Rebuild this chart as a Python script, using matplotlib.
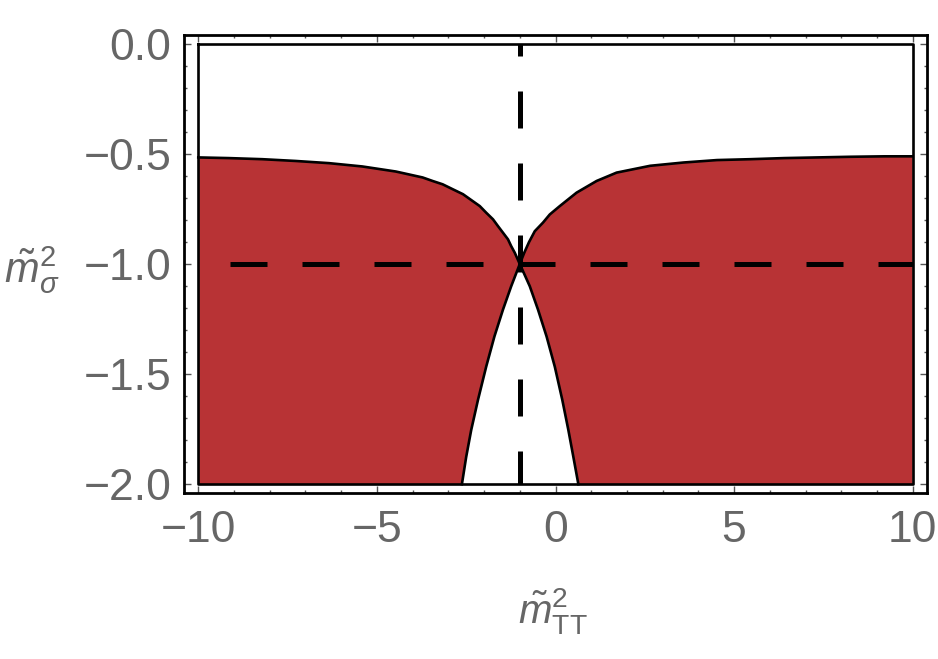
import matplotlib
matplotlib.use("Agg")
import matplotlib.pyplot as plt
from matplotlib.ticker import MultipleLocator

plt.rcParams['font.family'] = ['Liberation Sans', 'DejaVu Sans']
plt.rcParams['mathtext.fontset'] = 'custom'
plt.rcParams['mathtext.rm'] = 'Liberation Sans'
plt.rcParams['mathtext.it'] = 'Liberation Sans:italic'

# boundary curves
upper_left_x = [-10.0, -9.15, -8.21, -7.28, -6.34, -5.41, -4.47, -3.72, -3.44, -3.16, -2.87, -2.59,
                -2.12, -1.94, -1.75, -1.61, -1.47, -1.33, -1.24, -1.14, -1.0]
upper_left_y = [-0.516, -0.519, -0.524, -0.532, -0.542, -0.557, -0.580, -0.607, -0.623, -0.638, -0.661, -0.683,
                -0.737, -0.767, -0.797, -0.828, -0.858, -0.888, -0.919, -0.949, -1.0]

upper_right_x = [-1.0, -0.87, -0.74, -0.58, -0.35, -0.16, 0.12, 0.59, 1.15, 1.71, 2.65, 3.59, 4.52,
                 5.46, 6.40, 7.33, 8.27, 9.21, 10.0]
upper_right_y = [-1.0, -0.947, -0.900, -0.851, -0.812, -0.775, -0.737, -0.676, -0.623, -0.585, -0.554, -0.539, -0.528,
                 -0.524, -0.519, -0.516, -0.513, -0.511, -0.511]

lower_left_x = [-1.0, -1.24, -1.47, -1.71, -1.94, -2.17, -2.36, -2.50, -2.62]
lower_right_x = [-1.0, -0.72, -0.49, -0.25, -0.02, 0.19, 0.36, 0.50, 0.64]
lower_y = [-1.0, -1.101, -1.207, -1.329, -1.466, -1.617, -1.754, -1.876, -2.0]

x_ticks = [-10, -5, 0, 5, 10]
x_labels = ["\u221210", "\u22125", "0", "5", "10"]
y_ticks = [0.0, -0.5, -1.0, -1.5, -2.0]
y_labels = ["0.0", "\u22120.5", "\u22121.0", "\u22121.5", "\u22122.0"]

red = '#b83335'
grey = '#666666'

fig = plt.figure(figsize=(9.38, 6.59), dpi=100)
ax = fig.add_axes([184 / 938, 1 - 493 / 659, 743 / 938, 458 / 659])

# left red piece
left_x = [-10.0] + upper_left_x + lower_left_x[1:]
left_y = [-2.0] + upper_left_y + lower_y[1:]
ax.fill(left_x, left_y, color=red, lw=0)

# right red piece
right_x = [10.0] + upper_right_x[::-1] + lower_right_x[1:]
right_y = [-2.0] + upper_right_y[::-1] + lower_y[1:]
ax.fill(right_x, right_y, color=red, lw=0)

# boundaries
for xs, ys in [(upper_left_x, upper_left_y), (upper_right_x, upper_right_y),
               (lower_left_x, lower_y), (lower_right_x, lower_y)]:
    ax.plot(xs, ys, color='black', lw=1.9, solid_joinstyle='round')
ax.plot([-10, 10, 10, -10, -10], [0, 0, -2, -2, 0], color='black', lw=1.9)

# dashed guide lines
ax.plot([-10, 10], [-1, -1], color='black', lw=3.6,
        linestyle=(8.0, (7.4, 7.0)), dash_capstyle='butt')
ax.plot([-1, -1], [-2, 0], color='black', lw=3.6,
        linestyle=(0.8, (7.4, 7.0)), dash_capstyle='butt')

ax.set_xlim(-10.4, 10.4)
ax.set_ylim(-2.04, 0.04)

ax.set_xticks(x_ticks)
ax.set_xticklabels(x_labels)
ax.set_yticks(y_ticks)
ax.set_yticklabels(y_labels)
ax.xaxis.set_minor_locator(MultipleLocator(1))
ax.yaxis.set_minor_locator(MultipleLocator(0.1))
ax.tick_params(which='both', direction='in', top=True, right=True, color='#555555', width=1)
ax.tick_params(which='major', length=5, labelsize=32, labelcolor=grey)
ax.tick_params(which='minor', length=2.5)
ax.tick_params(axis='x', which='major', pad=12)
ax.tick_params(axis='y', which='major', pad=9)

for sp in ax.spines.values():
    sp.set_linewidth(2)
    sp.set_color('black')

ax.set_xlabel(r'$\tilde{m}_{\mathrm{TT}}^{2}$', fontsize=29, color=grey, va='center')
ax.xaxis.set_label_coords(0.497, -0.258)
ax.set_ylabel(r'$\tilde{m}_{\sigma}^{2}$', fontsize=30, color=grey, rotation=0, ha='center', va='center')
ax.yaxis.set_label_coords(-0.205, 0.487)

fig.savefig('out.png', dpi=100)
